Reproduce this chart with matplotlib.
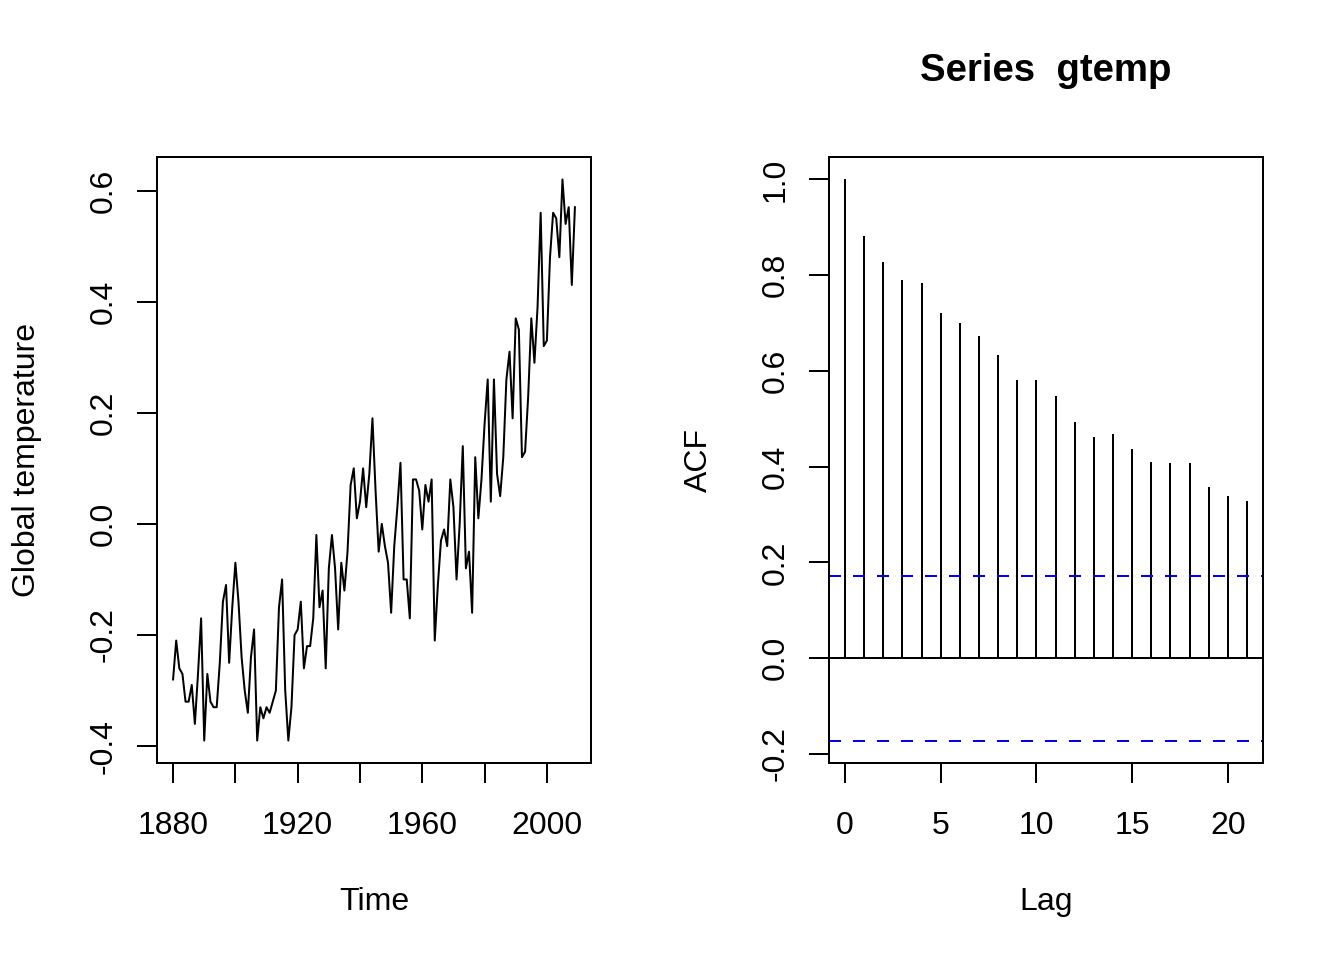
import numpy as np
import matplotlib
matplotlib.use("Agg")
import matplotlib.pyplot as plt

plt.rcParams["font.family"] = ["Liberation Sans", "DejaVu Sans"]

# annual global temperature deviations, 1880-2009
years = np.arange(1880, 2010)
gtemp = [
    -0.28, -0.21, -0.26, -0.27, -0.32, -0.32, -0.29, -0.36, -0.27, -0.17,
    -0.39, -0.27, -0.32, -0.33, -0.33, -0.25, -0.14, -0.11, -0.25, -0.15,
    -0.07, -0.14, -0.24, -0.30, -0.34, -0.24, -0.19, -0.39, -0.33, -0.35,
    -0.33, -0.34, -0.32, -0.30, -0.15, -0.10, -0.30, -0.39, -0.33, -0.20,
    -0.19, -0.14, -0.26, -0.22, -0.22, -0.17, -0.02, -0.15, -0.12, -0.26,
    -0.08, -0.02, -0.08, -0.19, -0.07, -0.12, -0.05, 0.07, 0.10, 0.01,
    0.04, 0.10, 0.03, 0.09, 0.19, 0.06, -0.05, 0.00, -0.04, -0.07,
    -0.16, -0.04, 0.03, 0.11, -0.10, -0.10, -0.17, 0.08, 0.08, 0.06,
    -0.01, 0.07, 0.04, 0.08, -0.21, -0.11, -0.03, -0.01, -0.04, 0.08,
    0.03, -0.10, 0.00, 0.14, -0.08, -0.05, -0.16, 0.12, 0.01, 0.08,
    0.18, 0.26, 0.04, 0.26, 0.09, 0.05, 0.12, 0.26, 0.31, 0.19,
    0.37, 0.35, 0.12, 0.13, 0.23, 0.37, 0.29, 0.39, 0.56, 0.32,
    0.33, 0.48, 0.56, 0.55, 0.48, 0.62, 0.54, 0.57, 0.43, 0.57,
]

# sample autocorrelation, lags 0..21
lags = np.arange(0, 22)
acf_vals = [
    1.000, 0.881, 0.827, 0.791, 0.783, 0.722, 0.701, 0.672, 0.633, 0.582,
    0.582, 0.547, 0.493, 0.461, 0.468, 0.436, 0.409, 0.407, 0.407, 0.357,
    0.338, 0.328,
]
ci = 0.172

W, H = 1344, 960
dpi = 144
fig = plt.figure(figsize=(W / dpi, H / dpi), dpi=dpi)

lw = 1.0
fs = 16


def r_style(ax):
    for s in ax.spines.values():
        s.set_linewidth(lw)
    ax.tick_params(direction="out", length=10, width=lw, labelsize=fs)
    ax.tick_params(axis="x", pad=14)
    ax.tick_params(axis="y", pad=9)
    for lab in ax.get_yticklabels():
        lab.set_rotation(90)
        lab.set_va("center")


# left: time series
ax1 = fig.add_axes([157 / W, 1 - 763 / H, 434 / W, 606 / H])
ax1.plot(years, gtemp, color="black", linewidth=lw)
r0, r1 = 1880, 2009
pad = 0.04 * (r1 - r0)
ax1.set_xlim(r0 - pad, r1 + pad)
ymin, ymax = min(gtemp), max(gtemp)
pad = 0.04 * (ymax - ymin)
ax1.set_ylim(ymin - pad, ymax + pad)
ax1.set_xticks([1880, 1900, 1920, 1940, 1960, 1980, 2000])
ax1.set_xticklabels(["1880", "", "1920", "", "1960", "", "2000"])
ax1.set_yticks([-0.4, -0.2, 0.0, 0.2, 0.4, 0.6])
ax1.set_yticklabels(["-0.4", "-0.2", "0.0", "0.2", "0.4", "0.6"])
ax1.set_xlabel("Time", fontsize=fs, labelpad=23)
ax1.set_ylabel("Global temperature", fontsize=fs, labelpad=23.5)
r_style(ax1)

# right: ACF
ax2 = fig.add_axes([829 / W, 1 - 763 / H, 434 / W, 606 / H])
ax2.vlines(lags, 0, acf_vals, color="black", linewidth=lw)
ax2.axhline(0, color="black", linewidth=lw)
for c in (ci, -ci):
    ax2.axhline(c, color="#0000ff", linewidth=lw, linestyle=(0, (6, 6)))
pad = 0.04 * (lags[-1] - lags[0])
ax2.set_xlim(lags[0] - pad, lags[-1] + pad)
lo = min(-ci, min(acf_vals))
pad = 0.04 * (1 - lo)
ax2.set_ylim(lo - pad, 1 + pad)
ax2.set_xticks([0, 5, 10, 15, 20])
ax2.set_yticks([-0.2, 0.0, 0.2, 0.4, 0.6, 0.8, 1.0])
ax2.set_yticklabels(["-0.2", "0.0", "0.2", "0.4", "0.6", "0.8", "1.0"])
ax2.set_xlabel("Lag", fontsize=fs, labelpad=23)
ax2.set_ylabel("ACF", fontsize=fs, labelpad=23.5)
ax2.set_title("Series  gtemp", fontsize=19.2, fontweight="bold", pad=38)
r_style(ax2)

fig.savefig("out.png", dpi=dpi)
